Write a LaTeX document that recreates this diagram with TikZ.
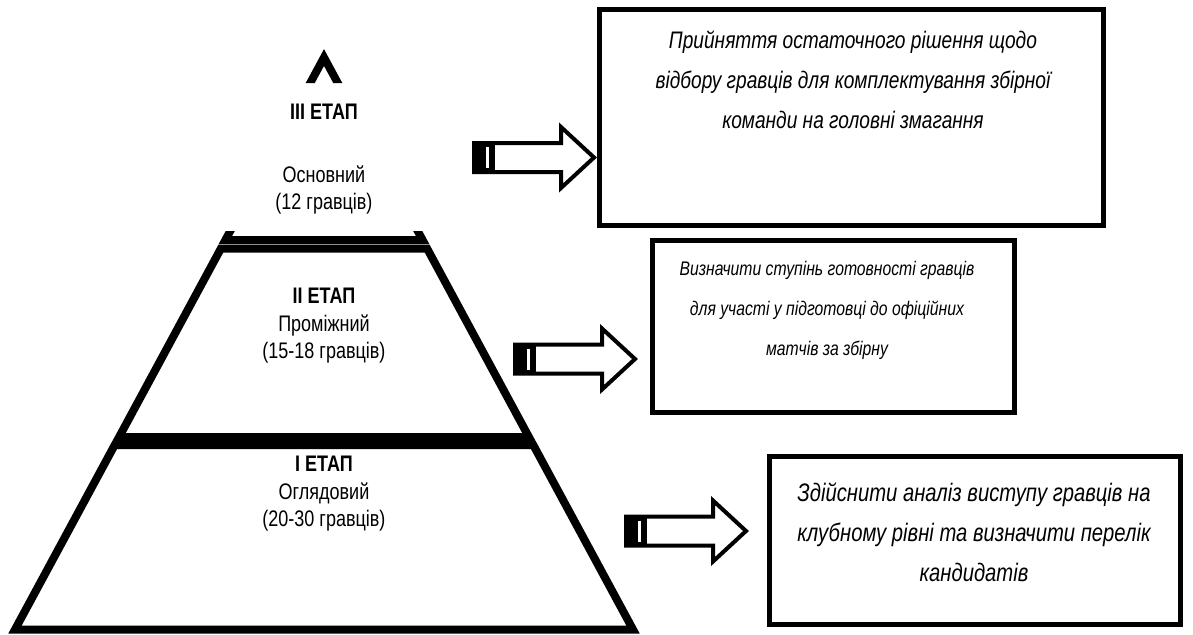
\documentclass[tikz,border=0pt]{standalone}
\usepackage{fontspec}
\setmainfont{Liberation Sans}[FakeStretch=0.8]
\begin{document}
\begin{tikzpicture}[x=0.025cm, y=-0.025cm,
  every node/.style={font=\fontsize{16pt}{19.5pt}\selectfont},
  tier/.style={line width=0.2cm, miter limit=20},
  stage/.style={align=center},
  goal/.style={draw, line width=0.125cm, inner sep=0pt},
  goaltxt/.style={align=center, font=\fontsize{#1}{28.5pt}\selectfont\itshape},
  barrow/.style={line width=0.1cm, fill=white}]
\useasboundingbox (0,0) rectangle (1193,634);
% pyramid
\coordinate (apex) at (324,57.5);
\begin{scope}
\clip (0,0) rectangle (1193,83) (0,231) rectangle (1193,634);
\draw[tier] (apex) -- (225.4,240) -- (422.6,240) -- cycle;
\end{scope}
\draw[tier] (220.9,248.5) -- (427.1,248.5) -- (528.9,437) -- (119.1,437) -- cycle;
\draw[tier] (114.7,445) -- (533.3,445) -- (633,629.5) -- (15,629.5) -- cycle;
\node[stage,font=\fontsize{16pt}{19.5pt}\selectfont\bfseries] (s3) at (324,112) {III ЕТАП};
\node[stage] (s3txt) at (324,190) {Основний\\(12 гравців)};
\node[stage] (s2) at (324,326) {\textbf{II ЕТАП}\\Проміжний\\(15-18 гравців)};
\node[stage] (s1) at (324,494) {\textbf{I ЕТАП}\\Оглядовий\\(20-30 гравців)};
% goals
\node[goal,minimum width=12.6cm,minimum height=5.4cm] (box1) at (851.5,117.5) {};
\node[goal,minimum width=9.05cm,minimum height=4.3cm] (box2) at (833.5,326.5) {};
\node[goal,minimum width=10.275cm,minimum height=4.2cm] (box3) at (975,540.5) {};
\node[goaltxt=17pt] (t1) at (853,80) {Прийняття остаточного рішення щодо\\відбору гравців для комплектування збірної\\команди на головні змагання};
\node[goaltxt=14pt] (t2) at (827,310) {Визначити ступінь готовності гравців\\для участі у підготовці до офіційних\\матчів за збірну};
\node[goaltxt=18pt] (t3) at (974,532) {Здійснити аналіз виступу гравців на\\клубному рівні та визначити перелік\\кандидатів};
% arrows
\foreach \ax/\ay in {474/157.5, 515/359, 626/531}{
  \draw[barrow] (\ax,\ay-14.5) -- ++(87,0) -- ++(0,-16) -- (\ax+120,\ay) -- (\ax+87,\ay+30.5) -- ++(0,-16) -- (\ax,\ay+14.5) -- cycle;
  \fill (\ax,\ay-14.5) rectangle (\ax+21,\ay+14.5);
  \draw[white,line width=0.075cm] (\ax+13.5,\ay-10.5) -- (\ax+13.5,\ay+10.5);
}
\end{tikzpicture}
\end{document}
